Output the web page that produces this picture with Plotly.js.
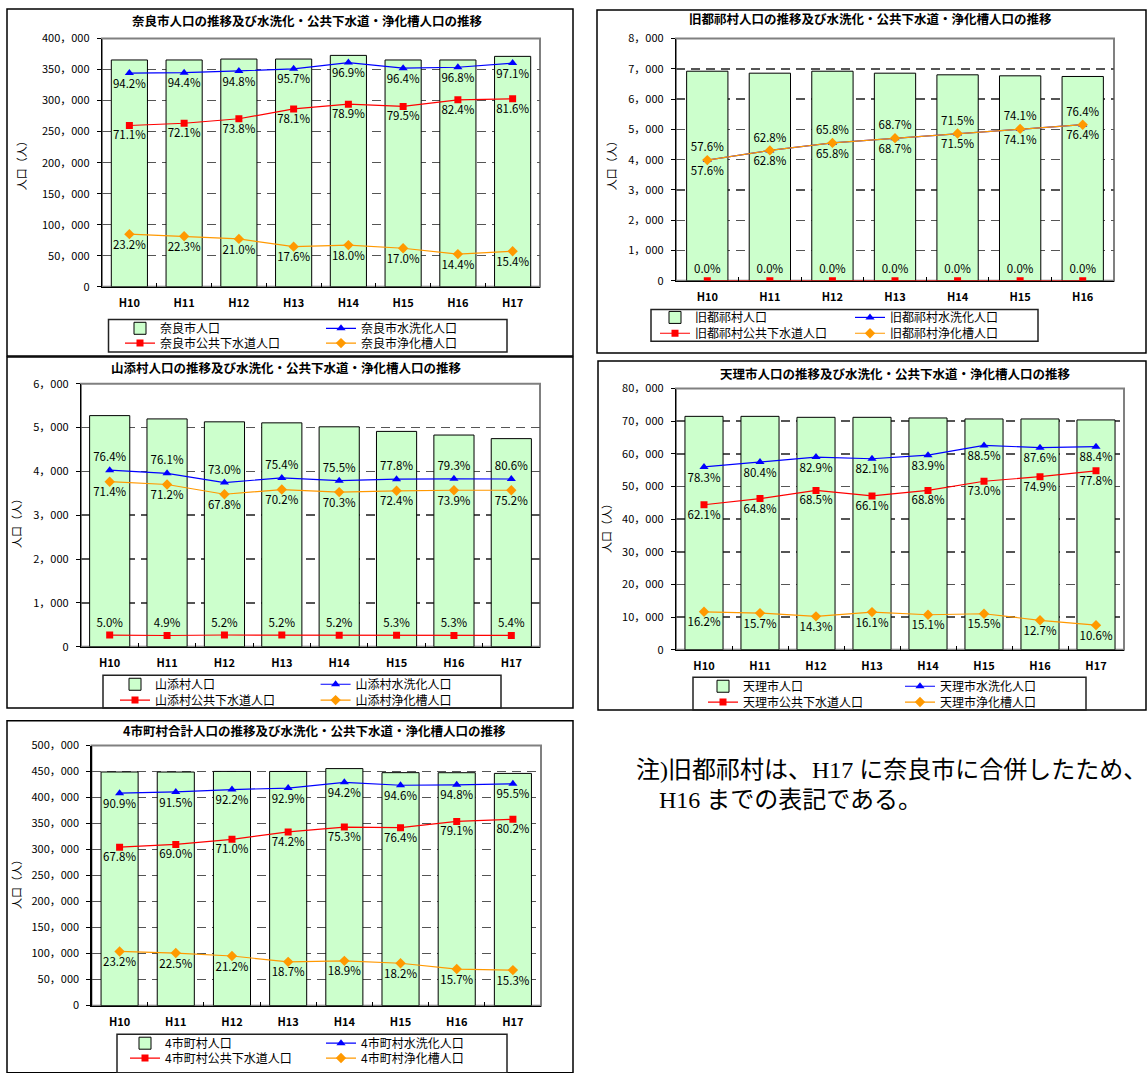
<!DOCTYPE html>
<html><head><meta charset="utf-8">
<script src="https://cdn.plot.ly/plotly-3.0.1.min.js"></script>
<style>html,body{margin:0;padding:0;background:#fff}#chart{width:1147px;height:1073px}</style>
</head><body><div id="chart"></div>
<script>
const years8 = ['H10','H11','H12','H13','H14','H15','H16','H17'];
const years7 = ['H10','H11','H12','H13','H14','H15','H16'];

// 奈良市
const naraPop    = [365500, 365500, 367000, 367000, 372900, 365500, 365500, 371300];
const naraWater  = [344300, 345000, 347900, 351200, 361300, 352300, 353800, 360500];
const naraSewer  = [259900, 263500, 270800, 286600, 294200, 290600, 301200, 303000];
const naraSeptic = [84800, 81500, 77100, 64600, 67100, 62100, 52600, 57200];
const naraWaterPct  = ['94.2%','94.4%','94.8%','95.7%','96.9%','96.4%','96.8%','97.1%'];
const naraSewerPct  = ['71.1%','72.1%','73.8%','78.1%','78.9%','79.5%','82.4%','81.6%'];
const naraSepticPct = ['23.2%','22.3%','21.0%','17.6%','18.0%','17.0%','14.4%','15.4%'];

// 旧都祁村
const tsugePop    = [6922, 6857, 6922, 6857, 6803, 6770, 6748];
const tsugeWater  = [3987, 4306, 4555, 4711, 4864, 5017, 5155];
const tsugeSewer  = [0, 0, 0, 0, 0, 0, 0];
const tsugeSeptic = [3987, 4306, 4555, 4711, 4864, 5017, 5155];
const tsugeWaterPct  = ['57.6%','62.8%','65.8%','68.7%','71.5%','74.1%','76.4%'];
const tsugeSewerPct  = ['0.0%','0.0%','0.0%','0.0%','0.0%','0.0%','0.0%'];
const tsugeSepticPct = ['57.6%','62.8%','65.8%','68.7%','71.5%','74.1%','76.4%'];

// 山添村
const yamaPop    = [5271, 5196, 5129, 5106, 5016, 4911, 4828, 4746];
const yamaWater  = [4027, 3954, 3744, 3850, 3787, 3821, 3829, 3825];
const yamaSewer  = [264, 255, 267, 266, 261, 260, 256, 256];
const yamaSeptic = [3763, 3700, 3477, 3584, 3526, 3556, 3568, 3569];
const yamaWaterPct  = ['76.4%','76.1%','73.0%','75.4%','75.5%','77.8%','79.3%','80.6%'];
const yamaSewerPct  = ['5.0%','4.9%','5.2%','5.2%','5.2%','5.3%','5.3%','5.4%'];
const yamaSepticPct = ['71.4%','71.2%','67.8%','70.2%','70.3%','72.4%','73.9%','75.2%'];

// 天理市
const tenriPop    = [71500, 71500, 71200, 71200, 71000, 70700, 70700, 70400];
const tenriWater  = [56000, 57500, 59000, 58500, 59600, 62600, 61900, 62200];
const tenriSewer  = [44400, 46300, 48800, 47100, 48800, 51600, 53000, 54800];
const tenriSeptic = [11600, 11200, 10200, 11500, 10700, 11000, 9000, 7500];
const tenriWaterPct  = ['78.3%','80.4%','82.9%','82.1%','83.9%','88.5%','87.6%','88.4%'];
const tenriSewerPct  = ['62.1%','64.8%','68.5%','66.1%','68.8%','73.0%','74.9%','77.8%'];
const tenriSepticPct = ['16.2%','15.7%','14.3%','16.1%','15.1%','15.5%','12.7%','10.6%'];

// 4市町村合計
const totalPop    = [449200, 449100, 450300, 450200, 455700, 447900, 447800, 446500];
const totalWater  = [408400, 410900, 415300, 418300, 429300, 423700, 424500, 426400];
const totalSewer  = [304600, 309900, 319700, 334000, 343200, 342200, 354200, 358100];
const totalSeptic = [104200, 101100, 95400, 84200, 86100, 81500, 70300, 68300];
const totalWaterPct  = ['90.9%','91.5%','92.2%','92.9%','94.2%','94.6%','94.8%','95.5%'];
const totalSewerPct  = ['67.8%','69.0%','71.0%','74.2%','75.3%','76.4%','79.1%','80.2%'];
const totalSepticPct = ['23.2%','22.5%','21.2%','18.7%','18.9%','18.2%','15.7%','15.3%'];

const W = 1147, H = 1073;
const FONT = 'Noto Sans CJK JP, Noto Sans, sans-serif';
const px = v => v / W;
const py = v => 1 - v / H;

const panels = [
  {name:'奈良市', title:'奈良市人口の推移及び水洗化・公共下水道・浄化槽人口の推移',
   cats:years8, pop:naraPop, water:naraWater, sewer:naraSewer, septic:naraSeptic,
   wp:naraWaterPct, sp:naraSewerPct, tp:naraSepticPct, ymax:400000, dtick:50000,
   tpos:['bottom center','bottom center','bottom center'], bw:0.66,
   plot:[102,540,39,290], border:[7,573,9,360], titleXY:[307,21], ytitle:[21,165],
   lbox:[108.5,507,323,356], ltext:[160,361], lrows:[332,347]},
  {name:'旧都祁村', title:'旧都祁村人口の推移及び水洗化・公共下水道・浄化槽人口の推移',
   cats:years7, pop:tsugePop, water:tsugeWater, sewer:tsugeSewer, septic:tsugeSeptic,
   wp:tsugeWaterPct, sp:tsugeSewerPct, tp:tsugeSepticPct, ymax:8000, dtick:1000,
   tpos:['bottom center','top center','top center'], bw:0.66,
   plot:[676,1114,39,284], border:[597,1146,10,357], titleXY:[870,19], ytitle:[611,165],
   lbox:[651,1038,313,345], ltext:[695,890], lrows:[321,337]},
  {name:'山添村', title:'山添村人口の推移及び水洗化・公共下水道・浄化槽人口の推移',
   cats:years8, pop:yamaPop, water:yamaWater, sewer:yamaSewer, septic:yamaSeptic,
   wp:yamaWaterPct, sp:yamaSewerPct, tp:yamaSepticPct, ymax:6000, dtick:1000,
   tpos:['top center','top center','bottom center'], bw:0.70,
   plot:[81,540,388,654], border:[7,573,361,716], titleXY:[286,372], ytitle:[16,527],
   lbox:[103,501,683,716], ltext:[155,355.6], lrows:[692,708]},
  {name:'天理市', title:'天理市人口の推移及び水洗化・公共下水道・浄化槽人口の推移',
   cats:years8, pop:tenriPop, water:tenriWater, sewer:tenriSewer, septic:tenriSeptic,
   wp:tenriWaterPct, sp:tenriSewerPct, tp:tenriSepticPct, ymax:80000, dtick:10000,
   tpos:['bottom center','bottom center','bottom center'], bw:0.68,
   plot:[676,1124,393,657], border:[598,1146,365,718], titleXY:[895,378], ytitle:[606,532],
   lbox:[693,1086,685,718], ltext:[743,940], lrows:[694,710]},
  {name:'4市町村', title:'4市町村合計人口の推移及び水洗化・公共下水道・浄化槽人口の推移',
   cats:years8, pop:totalPop, water:totalWater, sewer:totalSewer, septic:totalSeptic,
   wp:totalWaterPct, sp:totalSewerPct, tp:totalSepticPct, ymax:500000, dtick:50000,
   tpos:['bottom center','bottom center','bottom center'], bw:0.66,
   plot:[91.5,541,754,1017], border:[7,573,729,1085], titleXY:[314,739], ytitle:[16,892],
   lbox:[117,507,1046,1085], ltext:[165,361], lrows:[1055,1070]}
];

const traces = [];
const layout = {
  width: W, height: H, margin:{l:0,r:0,t:0,b:0},
  paper_bgcolor:'#fff', plot_bgcolor:'#fff',
  separators:'.，',
  font:{family:FONT, size:11, color:'#000'},
  showlegend:true, shapes:[], annotations:[]
};

panels.forEach((p, i) => {
  const n = i + 1;
  const xa = n === 1 ? 'x' : 'x' + n;
  const ya = n === 1 ? 'y' : 'y' + n;
  const lg1 = n === 1 ? 'legend' : 'legend' + (2*n - 1);
  const lg2 = 'legend' + (2*n);
  const lineTrace = (y, txt, name, color, sym, size, tpos, lg) => ({
    type:'scatter', mode:'lines+markers+text', x:p.cats, y:y, text:txt, name:name,
    xaxis:xa, yaxis:ya, legend:lg, textposition:tpos,
    textfont:{family:FONT, size:11.5, color:'#000'},
    line:{color:color, width:1.2}, marker:{color:color, symbol:sym, size:size},
    hoverinfo:'skip'
  });
  traces.push({type:'bar', x:p.cats, y:p.pop, name:p.name + '人口', xaxis:xa, yaxis:ya, legend:lg1,
    width:p.bw, marker:{color:'#CCFFCC', line:{color:'#000', width:1}}, hoverinfo:'skip'});
  traces.push(lineTrace(p.water, p.wp, p.name + '水洗化人口', '#0000FF', 'triangle-up', 8, p.tpos[0], lg1));
  traces.push(lineTrace(p.sewer, p.sp, p.name + '公共下水道人口', '#FF0000', 'square', 7, p.tpos[1], lg2));
  traces.push(lineTrace(p.septic, p.tp, p.name + '浄化槽人口', '#FF9900', 'diamond', 8, p.tpos[2], lg2));

  const xk = n === 1 ? 'xaxis' : 'xaxis' + n;
  const yk = n === 1 ? 'yaxis' : 'yaxis' + n;
  layout[xk] = {
    domain:[px(p.plot[0]), px(p.plot[1])], anchor:ya, type:'category',
    showline:true, linecolor:'#000', linewidth:1.2, ticks:'inside', ticklen:4, tickcolor:'#000',
    tickson:'boundaries', showgrid:false, zeroline:false, fixedrange:true,
    tickfont:{family:FONT, size:11, color:'#000', weight:'bold'}, ticklabelstandoff:6
  };
  layout[yk] = {
    domain:[py(p.plot[3]), py(p.plot[2])], anchor:xa, range:[0, p.ymax], dtick:p.dtick,
    tickformat:',d', showline:true, linecolor:'#000', linewidth:1.2, ticks:'outside', ticklen:4,
    tickcolor:'#000', showgrid:true, gridcolor:'#555', gridwidth:1.5, griddash:'9px,6px',
    zeroline:false, fixedrange:true, tickfont:{family:FONT, size:11, color:'#000'}, ticklabelstandoff:5
  };
  const E = (p.ltext[1] - p.ltext[0]) - 45;
  const legBase = {orientation:'h', xanchor:'left', yanchor:'middle', bgcolor:'rgba(0,0,0,0)',
    borderwidth:0, entrywidth:E, entrywidthmode:'pixels', itemclick:false, itemdoubleclick:false,
    font:{family:FONT, size:12, color:'#000'}, x:px(p.ltext[0] - 40), traceorder:'normal'};
  layout[lg1] = Object.assign({}, legBase, {y:py(p.lrows[0])});
  layout[lg2] = Object.assign({}, legBase, {y:py(p.lrows[1])});

  // panel border
  layout.shapes.push({type:'rect', xref:'paper', yref:'paper', x0:px(p.border[0]), x1:px(p.border[1]),
    y0:py(p.border[3]), y1:py(p.border[2]), line:{color:'#000', width:1.5}, layer:'below'});
  // plot frame
  layout.shapes.push({type:'rect', xref:xa + ' domain', yref:ya + ' domain', x0:0, x1:1, y0:0, y1:1,
    line:{color:'#808080', width:2}, layer:'below'});
  // legend box
  layout.shapes.push({type:'rect', xref:'paper', yref:'paper', x0:px(p.lbox[0]), x1:px(p.lbox[1]),
    y0:py(p.lbox[3]), y1:py(p.lbox[2]), line:{color:'#222', width:1.5}, layer:'below'});
  // panel title
  layout.annotations.push({text:p.title, xref:'paper', yref:'paper', x:px(p.titleXY[0]), y:py(p.titleXY[1]),
    xanchor:'center', yanchor:'middle', showarrow:false,
    font:{family:FONT, size:12.5, color:'#000', weight:'bold'}});
  // y axis title
  layout.annotations.push({text:'人口（人）', xref:'paper', yref:'paper', x:px(p.ytitle[0]), y:py(p.ytitle[1]),
    xanchor:'center', yanchor:'middle', textangle:-90, showarrow:false,
    font:{family:FONT, size:11, color:'#000'}});
});

// note
layout.annotations.push({text:'注)旧都祁村は、H17 に奈良市に合併したため、', xref:'paper', yref:'paper',
  x:px(634), y:py(779), xanchor:'left', yanchor:'middle', showarrow:false,
  font:{family:'Liberation Serif, Noto Sans CJK JP, serif', size:24, color:'#000'}});
layout.annotations.push({text:'H16 までの表記である。', xref:'paper', yref:'paper',
  x:px(657), y:py(809), xanchor:'left', yanchor:'middle', showarrow:false,
  font:{family:'Liberation Serif, Noto Sans CJK JP, serif', size:24, color:'#000'}});

Plotly.newPlot('chart', traces, layout, {displayModeBar:false, staticPlot:true});
</script></body></html>
